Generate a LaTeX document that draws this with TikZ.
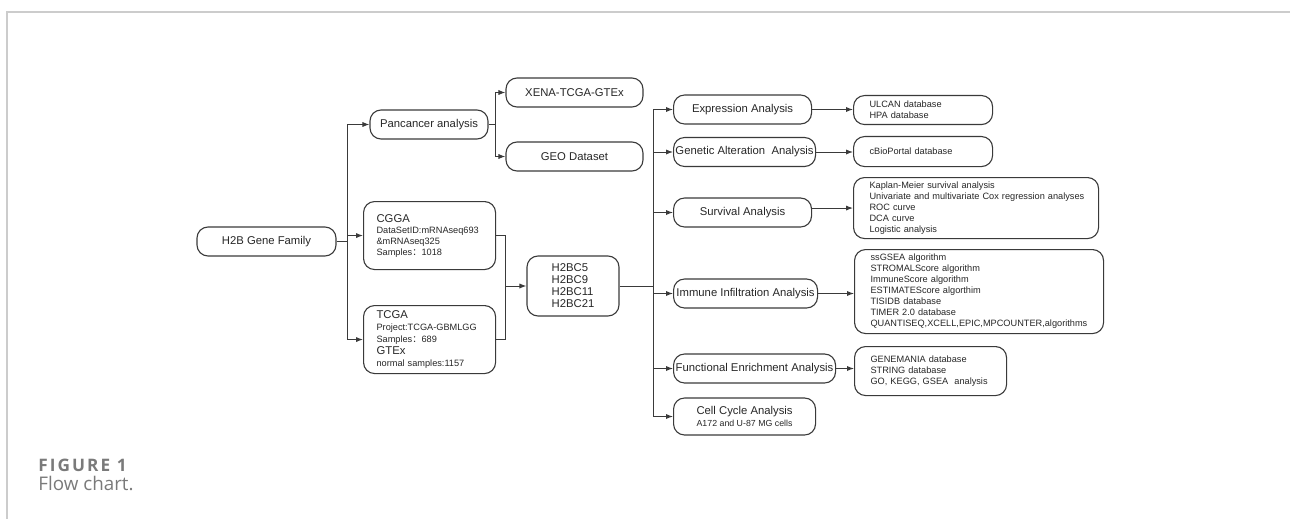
\documentclass[tikz,border=0pt]{standalone}
\usepackage{fontspec}
\setmainfont{Liberation Sans}
\newfontfamily\capfont{Open Sans}
\newfontfamily\capbold[LetterSpace=12]{Open Sans Bold}
\newfontfamily\cjkfont{Noto Sans CJK SC}
\usetikzlibrary{arrows.meta}
\definecolor{linec}{HTML}{3A3A3A}
\definecolor{framec}{HTML}{CCCCCC}
\definecolor{capc}{HTML}{7A7A7A}
\newcommand{\lab}{\fontsize{5.65}{6.5}\selectfont}
\newcommand{\sml}{\fontsize{4.6}{5.5}\selectfont}
\newcommand{\wcolon}{{\cjkfont ：}}

\begin{document}
\begin{tikzpicture}[x=0.5pt,y=-0.5pt,
  box/.style={draw=linec,line width=0.55pt,rounded corners=5.5pt,inner sep=0pt,
    minimum height=14.5pt,font=\lab,text=black!85},
  lst/.style={box,anchor=north west,align=left,font=\sml,inner xsep=8pt},
  arr/.style={draw=linec,line width=0.5pt,-{Latex[length=3.5pt,width=2.6pt]}},
  conn/.style={draw=linec,line width=0.5pt}]
 \useasboundingbox (0,0) rectangle (1290,519);
 \draw[framec,line width=0.8pt] (7,519)--(7,12)--(1290,12);

 % sources
 \node[box,minimum width=69.5pt] (fam) at (266.5,241.5) {H2B Gene Family};
 \node[box,minimum width=59pt] (pan) at (429,124.5) {Pancancer analysis};
 \node[box,minimum width=68.5pt] (xena) at (574.5,92.5) {XENA-TCGA-GTEx};
 \node[box,minimum width=68.5pt] (geo) at (574.5,156.5) {GEO Dataset};
 \node[lst,inner xsep=6.5pt,text width=53pt,minimum height=34pt] (cgga) at (363,201)
   {{\lab CGGA}\\DataSetID:mRNAseq693\\\&mRNAseq325\\Samples\wcolon 1018};
 \node[lst,inner xsep=6.5pt,text width=53pt,minimum height=34pt,
   font=\fontsize{4.6}{6}\selectfont] (tcga) at (363,305)
   {{\lab TCGA}\\Project:TCGA-GBMLGG\\Samples\wcolon 689\\{\lab GTEx}\\normal samples:1157};
 \node[box,align=left,minimum width=46pt,minimum height=30pt,
   font=\fontsize{5.65}{6}\selectfont] (h2bc) at (573,286) {H2BC5\\H2BC9\\H2BC11\\H2BC21};

 % analyses
 \node[box,anchor=west,minimum width=69pt] (expr) at (673,109.5) {Expression Analysis};
 \node[box,anchor=west,minimum width=71pt] (gene) at (673,152) {Genetic Alteration~ Analysis};
 \node[box,anchor=west,minimum width=69pt] (surv) at (673,212.5) {Survival Analysis};
 \node[box,anchor=west,minimum width=72pt] (immu) at (673,293.5) {Immune Infiltration Analysis};
 \node[box,anchor=west,minimum width=81pt] (func) at (673,368.5) {Functional Enrichment Analysis};
 \node[box,anchor=west,align=center,minimum width=71pt,minimum height=18.5pt,
   font=\fontsize{5.65}{6}\selectfont] (cell) at (673,416.5)
   {Cell Cycle Analysis\\{\fontsize{4.4}{6}\selectfont A172 and U-87 MG cells}};

 % tools
 \node[lst,text width=53.5pt] (ulcan) at (853,95) {ULCAN database\\HPA database};
 \node[lst,text width=53.5pt,minimum height=15pt] (cbio) at (853,136) {cBioPortal database};
 \node[lst,text width=106.5pt,minimum height=30.5pt] (kapl) at (853,177)
   {Kaplan-Meier survival analysis\\\mbox{Univariate and multivariate Cox regression analyses}\\
    ROC curve\\DCA curve\\Logistic analysis};
 \node[lst,text width=108.5pt,minimum height=42pt] (imdb) at (854,249)
   {ssGSEA algorithm\\STROMALScore algorithm\\ImmuneScore algorithm\\
    ESTIMATEScore algorthim\\TISIDB database\\TIMER 2.0 database\\
    QUANTISEQ,XCELL,EPIC,MPCOUNTER,algorithms};
 \node[lst,text width=60pt,minimum height=24.5pt] (gmania) at (854,346)
   {GENEMANIA database\\STRING database\\GO, KEGG, GSEA~ analysis};

 % connectors
 \coordinate (lj) at (347,241.5);
 \draw[conn] (fam.east) -- (lj);
 \draw[arr] (lj) |- (pan.west);
 \draw[arr] (lj) |- (cgga.west);
 \draw[arr] (lj) |- (tcga.west);
 \coordinate (pj) at (495,124.5);
 \draw[conn] (pan.east) -- (pj);
 \draw[arr] (pj) |- (xena.west);
 \draw[arr] (pj) |- (geo.west);
 \coordinate (mj) at (505,286);
 \draw[conn] (cgga.east) -| (mj);
 \draw[conn] (tcga.east) -| (mj);
 \draw[arr] (mj) -- (h2bc.west);
 \coordinate (rj) at (653,286);
 \draw[conn] (h2bc.east) -- (rj);
 \foreach \n in {expr,gene,surv,immu,func,cell}
   \draw[arr] (rj) |- (\n.west);
 \draw[arr] (expr.east) -- (expr.east -| ulcan.west);
 \draw[arr] (gene.east) -- (gene.east -| cbio.west);
 \draw[arr] (kapl.west -| surv.east) -- (kapl.west);
 \draw[arr] (immu.east) -- (immu.east -| imdb.west);
 \draw[arr] (func.east) -- (func.east -| gmania.west);

 % caption
 \node[anchor=west,inner sep=0pt,text=capc,font=\capbold\fontsize{8.6}{9}\selectfont]
   (fig) at (38,465) {FIGURE 1};
 \node[anchor=west,inner sep=0pt,text=capc,font=\capfont\fontsize{9.4}{11}\selectfont]
   (cap) at (38,483) {Flow chart.};
\end{tikzpicture}
\end{document}
